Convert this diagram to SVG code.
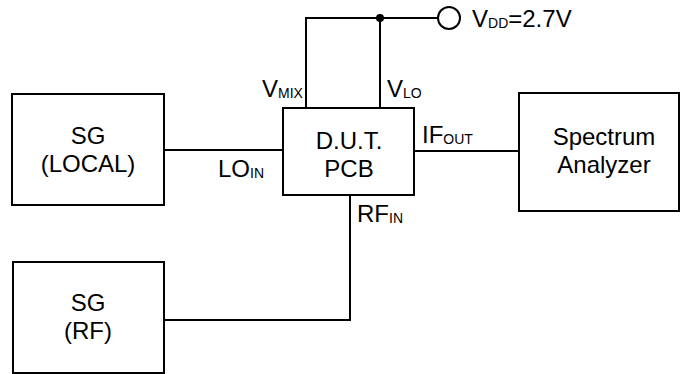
<svg xmlns="http://www.w3.org/2000/svg" width="680" height="374" viewBox="0 0 680 374">
<style>
.box{fill:#fff;stroke:#000;stroke-width:2}
.w{fill:none;stroke:#000;stroke-width:2}
text{font-family:"Liberation Sans",Arial,sans-serif;font-size:24px;fill:#000}
.c{text-anchor:middle}
.s{font-size:14px}
</style>
<rect width="680" height="374" fill="#fff"/>
<g id="connectors">
<polyline class="w" points="306,108 306,18 438,18"/>
<line class="w" x1="380" y1="18" x2="380" y2="108"/>
<circle cx="380" cy="18" r="4" fill="#000"/>
<line class="w" x1="164" y1="150" x2="283" y2="150"/>
<line class="w" x1="414" y1="151" x2="519" y2="151"/>
<polyline class="w" points="164,320 350,320 350,195"/>
</g>
<g id="vdd">
<circle cx="449" cy="18" r="11" class="box"/>
<text x="472" y="27">V<tspan class="s" dy="1">DD</tspan><tspan dy="-1">=2.7V</tspan></text>
</g>
<g id="sg-local">
<rect class="box" x="12" y="94" width="152" height="111"/>
<text class="c" x="88" y="144">SG</text>
<text class="c" x="88" y="172">(LOCAL)</text>
</g>
<g id="sg-rf">
<rect class="box" x="13" y="262" width="151" height="111"/>
<text class="c" x="88" y="311">SG</text>
<text class="c" x="88" y="339">(RF)</text>
</g>
<g id="dut">
<rect class="box" x="283" y="108" width="131" height="87"/>
<text class="c" x="349" y="149">D.U.T.</text>
<text class="c" x="349" y="177">PCB</text>
</g>
<g id="spectrum">
<rect class="box" x="519" y="93" width="160" height="118"/>
<text class="c" x="604" y="145">Spectrum</text>
<text class="c" x="604" y="173">Analyzer</text>
</g>
<g id="labels">
<text x="262" y="97">V<tspan class="s" dy="1">MIX</tspan></text>
<text x="387" y="97">V<tspan class="s" dy="1">LO</tspan></text>
<text x="218" y="177">LO<tspan class="s" dy="1">IN</tspan></text>
<text x="422" y="143">IF<tspan class="s" dy="1">OUT</tspan></text>
<text x="357" y="222">RF<tspan class="s" dy="1">IN</tspan></text>
</g>
</svg>
